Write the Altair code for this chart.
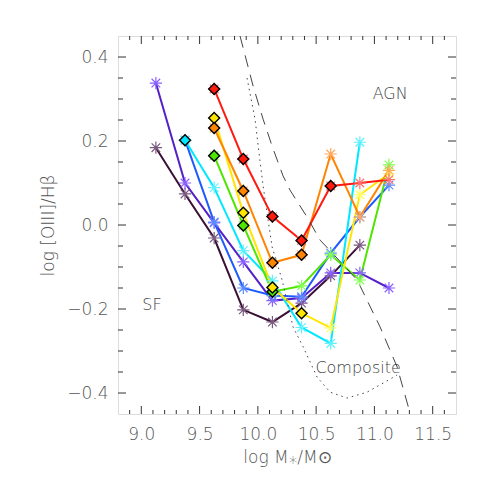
import altair as alt
import pandas as pd

# ---------------- data ----------------
bins = [9.125, 9.375, 9.625, 9.875, 10.125, 10.375, 10.625, 10.875, 11.125]

s_dark   = [0.184, 0.074, -0.031, -0.202, -0.231, -0.186, -0.121, -0.048, None]
s_purple = [0.338, 0.100, 0.005, -0.088, -0.180, -0.174, -0.114, -0.114, -0.150]
s_blue   = [None, 0.202, 0.007, -0.150, -0.168, -0.171, -0.067, 0.019, 0.095]
s_cyan   = [None, 0.202, 0.089, -0.061, -0.133, -0.244, -0.282, 0.197, None]
s_green  = [None, None, 0.165, -0.001, -0.159, -0.145, -0.071, -0.131, 0.143]
s_yellow = [None, None, 0.255, 0.029, -0.149, -0.210, -0.245, 0.072, 0.122]
s_orange = [None, None, 0.231, 0.081, -0.090, -0.071, 0.169, 0.019, 0.130]
s_red    = [None, None, 0.324, 0.157, 0.020, -0.037, 0.093, 0.100, 0.108]

d_dark   = [0, 0, 0, 0, 0, 0, 0, 0, 0]
d_purple = [0, 0, 0, 0, 0, 0, 0, 0, 0]
d_blue   = [0, 0, 0, 0, 0, 0, 0, 0, 0]
d_cyan   = [0, 1, 0, 0, 0, 0, 0, 0, 0]
d_green  = [0, 0, 1, 1, 1, 0, 0, 0, 0]
d_yellow = [0, 0, 1, 1, 1, 1, 0, 0, 0]
d_orange = [0, 0, 1, 1, 1, 1, 0, 0, 0]
d_red    = [0, 0, 1, 1, 1, 1, 1, 0, 0]

names = ["dark", "purple", "blue", "cyan", "green", "yellow", "orange", "red"]
line_colors = ["#3a1034", "#5520c8", "#1f5aff", "#00e8ff", "#4de600", "#ffe600", "#ff8400", "#ff1a10"]
star_colors = ["#7a5a80", "#8a60ff", "#5a8cff", "#60f0ff", "#80ff50", "#ffff60", "#ffa860", "#ff7070"]

series_vals = [s_dark, s_purple, s_blue, s_cyan, s_green, s_yellow, s_orange, s_red]
series_diam = [d_dark, d_purple, d_blue, d_cyan, d_green, d_yellow, d_orange, d_red]

# dividing curves
dash_x = [9.847, 9.959, 10.045, 10.122, 10.216, 10.276, 10.422, 10.534, 10.70, 10.852, 11.049, 11.195, 11.306]
dash_y = [0.450, 0.331, 0.252, 0.188, 0.117, 0.083, 0.019, -0.036, -0.085, -0.131, -0.243, -0.338, -0.448]
dot_x = [9.907, 9.976, 10.010, 10.045, 10.122, 10.208, 10.302, 10.388, 10.508, 10.620, 10.766, 10.937, 11.135, 11.195]
dot_y = [0.350, 0.252, 0.171, 0.093, -0.052, -0.131, -0.243, -0.290, -0.362, -0.398, -0.412, -0.398, -0.367, -0.357]

label_text = ["AGN", "SF", "Composite"]
label_x = [11.135, 9.092, 10.86]
label_y = [0.312, -0.190, -0.340]

x_major = [9.0, 9.5, 10.0, 10.5, 11.0, 11.5]
x_minor = [8.9, 9.1, 9.2, 9.3, 9.4, 9.6, 9.7, 9.8, 9.9, 10.1, 10.2, 10.3, 10.4,
           10.6, 10.7, 10.8, 10.9, 11.1, 11.2, 11.3, 11.4, 11.6]
y_major = [-0.4, -0.2, 0.0, 0.2, 0.4]
y_minor = [-0.35, -0.3, -0.25, -0.15, -0.1, -0.05, 0.05, 0.1, 0.15, 0.25, 0.3, 0.35]

# ---------------- tables ----------------
rows = []
for k, (nm, vals, dm) in enumerate(zip(names, series_vals, series_diam)):
    for xv, yv, dv in zip(bins, vals, dm):
        if yv is not None:
            rows.append({"x": xv, "y": yv, "s": nm, "o": k, "d": dv})
df = pd.DataFrame(rows)
df_d = df[df["d"] == 1]

df_dash = pd.DataFrame({"x": dash_x, "y": dash_y})
df_dot = pd.DataFrame({"x": dot_x, "y": dot_y})
df_lab = pd.DataFrame({"t": label_text, "x": label_x, "y": label_y})

W, H = 338, 378
XD = [8.8, 11.7]
YD = [-0.45, 0.45]
FONT = "DejaVu Sans"
FW = 200
TXT = "#555555"

xs = alt.Scale(domain=XD, nice=False, zero=False)
ys = alt.Scale(domain=YD, nice=False, zero=False)

line_scale = alt.Scale(domain=names, range=line_colors)
star_scale = alt.Scale(domain=names, range=star_colors)

X = alt.X("x:Q", scale=xs)
Y = alt.Y("y:Q", scale=ys)

base = alt.Chart(df)

lines = base.mark_line(strokeWidth=2, clip=True).encode(
    x=alt.X("x:Q", scale=xs,
            axis=alt.Axis(values=x_major, format=".1f", ticks=False, tickSize=0, domain=False,
                          grid=False, labelFont=FONT, labelFontSize=17, labelFontWeight=FW,
                          labelColor=TXT, labelPadding=12, title="log M⁎/M⊙", titleFont=FONT,
                          titleFontSize=17, titleFontWeight=FW, titleColor=TXT,
                          titlePadding=7)),
    y=alt.Y("y:Q", scale=ys,
            axis=alt.Axis(values=y_major, format=".1f", ticks=False, tickSize=0, domain=False,
                          grid=False, labelFont=FONT, labelFontSize=17, labelFontWeight=FW,
                          labelColor=TXT, labelPadding=10, title="log [OIII]/Hβ", titleFont=FONT,
                          titleFontSize=17, titleFontWeight=FW, titleColor=TXT,
                          titlePadding=9)),
    color=alt.Color("s:N", scale=line_scale, legend=None),
    detail="s:N",
    order="x:Q",
)

asterisk = "M-1,0L1,0M0,-1L0,1M-0.7,-0.7L0.7,0.7M-0.7,0.7L0.7,-0.7"
stars = base.mark_point(shape=asterisk, filled=False, size=150, strokeWidth=1.2, opacity=1).encode(
    x=X, y=Y,
    stroke=alt.Stroke("s:N", scale=star_scale, legend=None),
)

diam = alt.Chart(df_d).mark_point(shape="diamond", filled=True, size=120, stroke="black",
                                  strokeWidth=1.4, opacity=1).encode(
    x=X, y=Y,
    fill=alt.Fill("s:N", scale=line_scale, legend=None),
    order="o:Q",
)

dash = alt.Chart(df_dash).mark_line(color="#444444", strokeWidth=1, strokeDash=[12, 8], clip=True).encode(
    x=X, y=Y, order="x:Q")
dot = alt.Chart(df_dot).mark_line(color="#444444", strokeWidth=1, strokeDash=[1.5, 4], clip=True).encode(
    x=X, y=Y, order="x:Q")

labels = alt.Chart(df_lab).mark_text(font=FONT, fontSize=16, fontWeight=FW, color="#444444").encode(
    x=X, y=Y, text="t:N")

TK = "#333333"
def xticks(vals, ln):
    d = pd.DataFrame({"x": vals})
    b = alt.Chart(d).mark_rule(color=TK, strokeWidth=1).encode(
        x=X, y=alt.value(H), y2=alt.value(H - ln))
    t = alt.Chart(d).mark_rule(color=TK, strokeWidth=1).encode(
        x=X, y=alt.value(0), y2=alt.value(ln))
    return [b, t]

def yticks(vals, ln):
    d = pd.DataFrame({"y": vals})
    l = alt.Chart(d).mark_rule(color=TK, strokeWidth=1).encode(
        y=Y, x=alt.value(0), x2=alt.value(ln))
    r = alt.Chart(d).mark_rule(color=TK, strokeWidth=1).encode(
        y=Y, x=alt.value(W), x2=alt.value(W - ln))
    return [l, r]

tick_layers = xticks(x_major, 8) + xticks(x_minor, 4) + yticks(y_major, 8) + yticks(y_minor, 5)

chart = alt.layer(lines, dash, dot, stars, diam, labels, *tick_layers).properties(
    width=W, height=H,
    autosize=alt.AutoSizeParams(type="none"),
    padding={"left": 110, "top": 28, "right": 20, "bottom": 60},
).configure_view(stroke="#333333", strokeWidth=1.2).configure(background="white")

chart.save("out.html", embed_options={"renderer": "svg", "actions": False})
